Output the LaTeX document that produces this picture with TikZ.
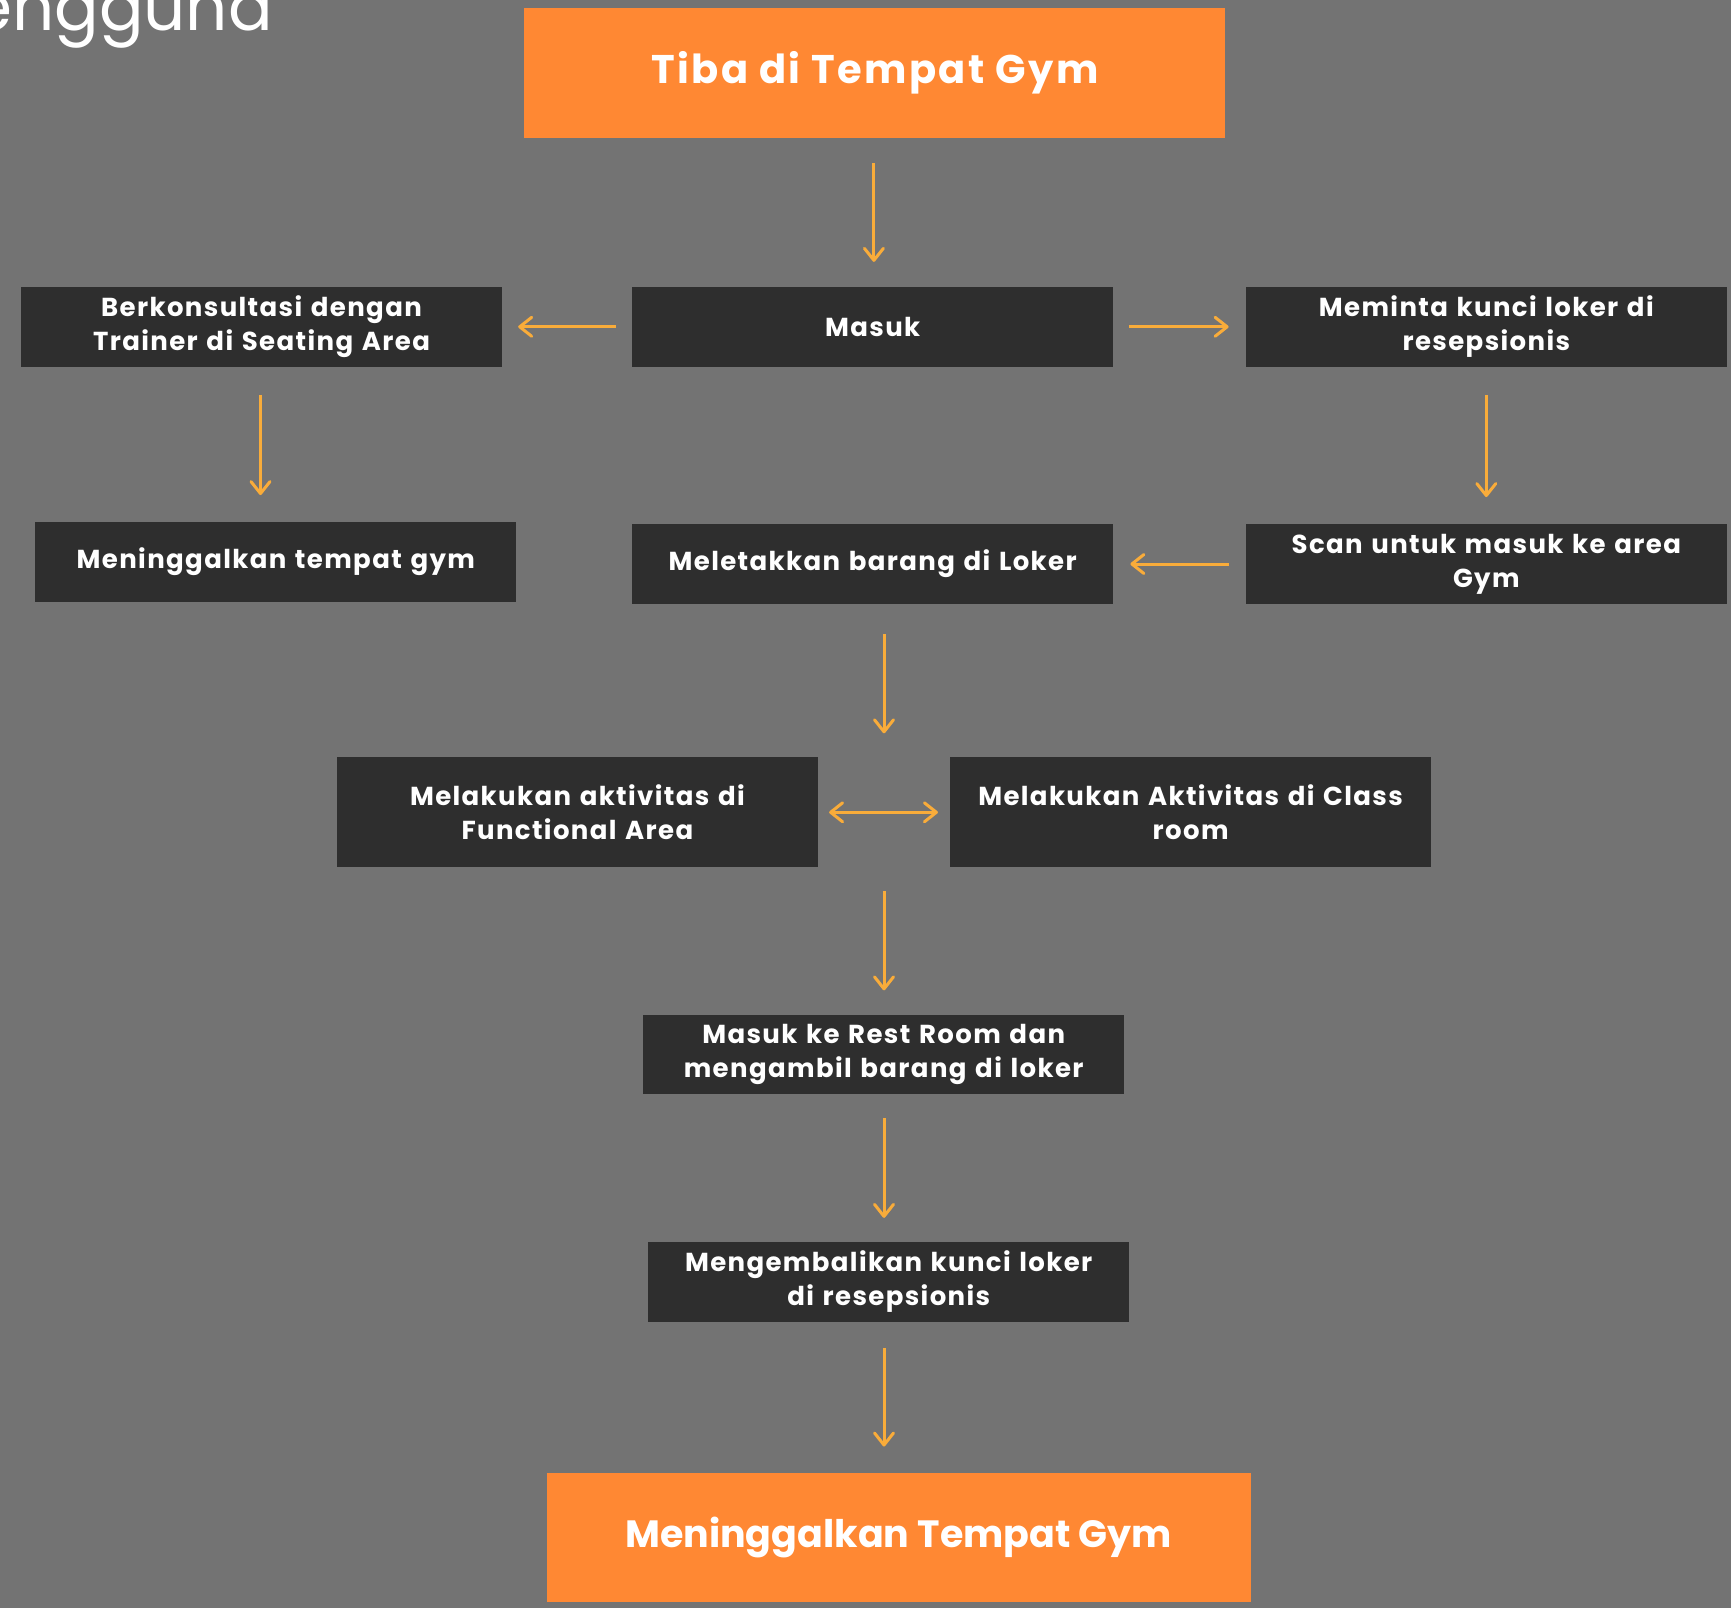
\documentclass[tikz,border=0pt]{standalone}
\usepackage{fontspec}
\setmainfont{Poppins}
\newfontfamily\boxfont{Poppins}[LetterSpace=5.3]
\newfontfamily\titlefont{Poppins}[LetterSpace=6]
\usetikzlibrary{arrows.meta}
\definecolor{bgc}{HTML}{737373}
\definecolor{orangebox}{HTML}{FF8833}
\definecolor{darkbox}{HTML}{2E2E2E}
\definecolor{arrowc}{HTML}{F9AC3A}
\tikzset{
  darknode/.style={fill=darkbox, text=white, minimum width=481pt, minimum height=79.5pt,
    inner sep=0pt, align=center, text width=470pt,
    font=\boxfont\fontsize{26}{34}\selectfont\bfseries},
  twoline/.style={text depth=3pt},
  orangenode/.style={fill=orangebox, text=white, inner sep=0pt, align=center,
    font=\fontsize{38}{46}\selectfont\bfseries},
  tip/.tip={Straight Barb[length=12pt,width=19pt,line width=3pt,round]},
  flow/.style={draw=arrowc, line width=3pt, -tip},
  flowboth/.style={draw=arrowc, line width=3pt, tip-tip}
}
\begin{document}
\begin{tikzpicture}[x=1pt,y=-1pt]
\useasboundingbox (0,0) rectangle (1731,1608);
\clip (0,0) rectangle (1731,1608);
\fill[bgc] (0,0) rectangle (1731,1608);

\node[anchor=base east, text=white, inner sep=0pt, font=\fontsize{66}{70}\selectfont] (head) at (273,31) {engguna};

\node[orangenode, minimum width=701pt, minimum height=130pt, font=\titlefont\fontsize{40}{46}\selectfont\bfseries] (tiba) at (874.9,72.9) {Tiba di Tempat Gym};

\node[darknode] (berk) at (261.5,326.8) {Berkonsultasi dengan\\Trainer di Seating Area};
\node[darknode] (masuk) at (872.7,326.8) {Masuk};
\node[darknode] (minta) at (1486.3,326.8) {Meminta kunci loker di\\resepsionis};

\node[darknode] (pergi) at (275.8,562) {Meninggalkan tempat gym};
\node[darknode] (letak) at (872.7,564) {Meletakkan barang di Loker};
\node[darknode] (scan) at (1486.3,564) {Scan untuk masuk ke area\\Gym};

\node[darknode, minimum height=109.6pt] (func) at (577.4,811.8) {Melakukan aktivitas di\\Functional Area};
\node[darknode, minimum height=109.6pt] (kelas) at (1190.6,811.8) {Melakukan Aktivitas di Class\\room};

\node[darknode] (rest) at (883.7,1054.3) {Masuk ke Rest Room dan\\mengambil barang di loker};
\node[darknode] (kembali) at (888.7,1281.8) {Mengembalikan kunci loker\\di resepsionis};

\node[orangenode, minimum width=704pt, minimum height=129pt] (akhir) at (898.6,1537.2) {Meninggalkan Tempat Gym};

\coordinate (hub) at (884,812.3);

\draw[flow, shorten <=25pt, shorten >=25pt] ([xshift=-1pt]tiba.south) -- ([xshift=-1pt]tiba.south |- masuk.north);
\draw[flow, shorten <=16pt, shorten >=16pt] (masuk.west) -- (berk.east);
\draw[flow, shorten <=16pt, shorten >=17pt] (masuk.east) -- (minta.west);
\draw[flow, shorten <=28pt, shorten >=27pt] ([xshift=-1pt]berk.south) -- ([xshift=-1pt]berk.south |- pergi.north);
\draw[flow, shorten <=28pt, shorten >=27pt] (minta.south) -- (minta.south |- scan.north);
\draw[flow, shorten <=17pt, shorten >=17pt] (scan.west) -- (letak.east);
\draw[flow, shorten <=30pt, shorten >=79pt] (hub |- letak.south) -- (hub);
\draw[flowboth, shorten <=11pt, shorten >=12pt] (func.east |- hub) -- (kelas.west |- hub);
\draw[flow, shorten <=79pt, shorten >=24pt] (hub) -- (hub |- rest.north);
\draw[flow, shorten <=24pt, shorten >=24pt] (hub |- rest.south) -- (hub |- kembali.north);
\draw[flow, shorten <=26pt, shorten >=26pt] (hub |- kembali.south) -- (hub |- akhir.north);
\end{tikzpicture}
\end{document}
